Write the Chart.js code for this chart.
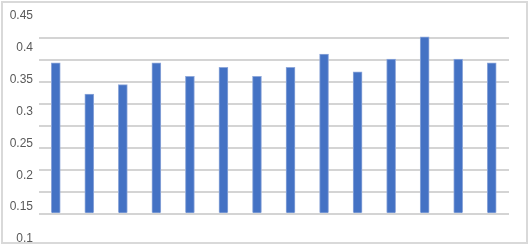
<!DOCTYPE html>
<html>
<head>
<meta charset="utf-8">
<script src="https://cdn.jsdelivr.net/npm/chart.js@4"></script>
<style>
    html, body { margin: 0; padding: 0; background: #fff; }
    #frame {
        position: absolute; left: 1px; top: 1px;
        width: 523px; height: 239px;
        border: 2px solid #d9d9d9;
    }
    #wrap { position: absolute; left: 0; top: 0; width: 531px; height: 246px; }
</style>
</head>
<body>
<div id="frame"></div>
<div id="wrap"><canvas id="myChart"></canvas></div>
<script>
const categories = ['1', '2', '3', '4', '5', '6', '7', '8', '9', '10', '11', '12', '13', '14'];
const values = [0.376, 0.327, 0.342, 0.376, 0.355, 0.369, 0.355, 0.369, 0.390, 0.362, 0.382, 0.417, 0.382, 0.376];
const tickLabels = [0.1, 0.15, 0.2, 0.25, 0.3, 0.35, 0.4, 0.45];
const gridLines = [0, 1, 2, 3, 4, 5, 6, 7, 8];

document.addEventListener('DOMContentLoaded', function () {
    let ctx = document.getElementById('myChart').getContext('2d');
    let myChart = new Chart(ctx, {
        type: 'bar',
        data: {
            labels: categories,
            datasets: [
                {
                    label: 'Series1',
                    data: values,
                    base: 0.1411,
                    backgroundColor: '#4472C4',
                    borderColor: '#8FA8DA',
                    borderWidth: 1,
                    barThickness: 9,
                    yAxisID: 'y',
                }
            ]
        },
        options: {
            responsive: true,
            maintainAspectRatio: false,
            animation: false,
            layout: {
                padding: { top: 15.7, bottom: 7, left: 0, right: 0 }
            },
            scales: {
                x: {
                    display: false,
                },
                y: {
                    position: 'left',
                    min: 0.1,
                    max: 0.45,
                    afterBuildTicks: (scale) => {
                        scale.ticks = tickLabels.map(v => ({ value: v }));
                    },
                    afterFit: (scale) => {
                        scale.width = 39;
                        scale.paddingTop = 0;
                        scale.paddingBottom = 0;
                    },
                    grid: { display: false, drawTicks: false },
                    border: { display: false },
                    ticks: {
                        padding: 6,
                        color: '#595959',
                        font: { family: 'Liberation Sans', size: 12 },
                        callback: (v) => String(v),
                    }
                },
                yGrid: {
                    position: 'right',
                    min: -25 / 22,
                    max: 8 + 22.3 / 22,
                    afterBuildTicks: (scale) => {
                        scale.ticks = gridLines.map(v => ({ value: v }));
                    },
                    afterFit: (scale) => {
                        scale.width = 22.5;
                        scale.paddingTop = 0;
                        scale.paddingBottom = 0;
                    },
                    grid: { color: '#d4d4d4', lineWidth: 2, drawTicks: false },
                    border: { display: false },
                    ticks: { display: false }
                }
            },
            plugins: {
                legend: { display: false },
                tooltip: { enabled: false }
            }
        }
    });
});
</script>
</body>
</html>
